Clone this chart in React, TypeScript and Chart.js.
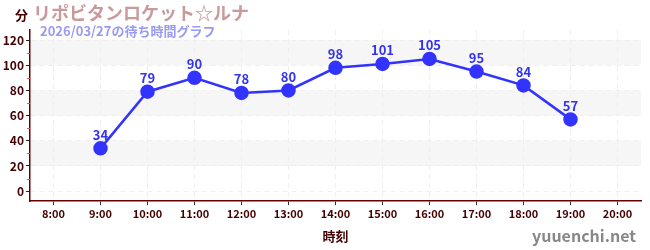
import React, { useEffect, useRef } from "react";
import { Chart, registerables } from "chart.js";

Chart.register(...registerables);

const categories = ["8:00", "9:00", "10:00", "11:00", "12:00", "13:00", "14:00", "15:00", "16:00", "17:00", "18:00", "19:00", "20:00"];
const waitValues: (number | null)[] = [null, 34, 79, 90, 78, 80, 98, 101, 105, 95, 84, 57, null];
const yTicks = [0, 20, 40, 60, 80, 100, 120];
const minorTicks = [10, 30, 50, 70, 90, 110];
const titleText = "リポビタンロケット☆ルナ";
const subtitleText = "2026/03/27の待ち時間グラフ";
const unitText = "分";
const xTitle = "時刻";
const watermark = "yuuenchi.net";

const FONT = "'Noto Sans CJK JP', 'Noto Sans', sans-serif";

const decorPlugin = {
  id: "decor",
  beforeDraw(chart: any) {
    const { ctx, chartArea, scales } = chart;
    const y = scales.y;
    ctx.save();
    ctx.fillStyle = "#f6f6f6";
    for (let v = 20; v < 120; v += 40) {
      const top = y.getPixelForValue(v + 20);
      const bot = y.getPixelForValue(v);
      ctx.fillRect(chartArea.left, top, chartArea.right - chartArea.left, bot - top);
    }
    ctx.restore();
  },
  afterDatasetsDraw(chart: any) {
    const { ctx } = chart;
    const meta = chart.getDatasetMeta(0);
    ctx.save();
    ctx.font = `bold 13px ${FONT}`;
    ctx.fillStyle = "#3333ee";
    ctx.textAlign = "center";
    ctx.textBaseline = "bottom";
    meta.data.forEach((pt: any, i: number) => {
      const v = waitValues[i];
      if (v == null || pt.skip) return;
      ctx.fillText(String(v), pt.x, pt.y - 7);
    });
    ctx.restore();
  },
  afterDraw(chart: any) {
    const { ctx, chartArea, scales } = chart;
    const y = scales.y;
    ctx.save();
    ctx.strokeStyle = "#ee5555";
    ctx.lineWidth = 1;
    minorTicks.forEach((v) => {
      const py = Math.round(y.getPixelForValue(v)) + 0.5;
      ctx.beginPath();
      ctx.moveTo(chartArea.left - 3, py);
      ctx.lineTo(chartArea.left, py);
      ctx.stroke();
    });
    ctx.textBaseline = "alphabetic";
    ctx.textAlign = "left";
    ctx.fillStyle = "#440000";
    ctx.font = `bold 13px ${FONT}`;
    ctx.fillText(unitText, 15, 20);
    ctx.fillStyle = "#c99a9c";
    ctx.font = `bold 18px ${FONT}`;
    ctx.fillText(titleText, 33, 20);
    ctx.fillStyle = "#9a9af5";
    ctx.font = `bold 13px ${FONT}`;
    ctx.fillText(subtitleText, 40, 36);
    ctx.fillStyle = "#888888";
    ctx.font = `bold 16px ${FONT}`;
    ctx.textAlign = "right";
    ctx.fillText(watermark, 636, 242);
    ctx.restore();
  },
};

export default function App() {
  const ref = useRef<HTMLCanvasElement | null>(null);
  useEffect(() => {
    document.body.style.margin = "0";
    const canvas = ref.current!;
    const chart = new Chart(canvas, {
      type: "line",
      data: {
        labels: categories,
        datasets: [
          {
            data: waitValues,
            borderColor: "#3333ff",
            backgroundColor: "#3333ff",
            borderWidth: 2.5,
            pointRadius: 6,
            pointHoverRadius: 6,
            pointBackgroundColor: "#3333ff",
            pointBorderColor: "#3333ff",
            tension: 0,
            spanGaps: false,
          },
        ],
      },
      options: {
        animation: false,
        responsive: false,
        maintainAspectRatio: false,
        layout: { padding: { top: 30, left: 0, right: 9, bottom: 6 } },
        plugins: { legend: { display: false }, tooltip: { enabled: false }, title: { display: false } },
        scales: {
          x: {
            offset: true,
            grid: {
              color: "#efefef",
              tickColor: "#333333",
              tickLength: 4,
              tickBorderDash: [],
              offset: false,
            },
            border: { color: "#660000", width: 1.5, dash: [5, 4] },
            ticks: { color: "#440000", font: { family: FONT, size: 11, weight: "bold" }, padding: 2, maxRotation: 0, autoSkip: false },
            title: { display: true, text: xTitle, color: "#440000", font: { family: FONT, size: 13, weight: "bold" }, padding: { top: 6, bottom: 0 } },
          },
          y: {
            min: -8,
            max: 128,
            afterBuildTicks: (s: any) => {
              s.ticks = yTicks.map((v) => ({ value: v }));
            },
            afterFit: (s: any) => {
              s.width = 30;
            },
            grid: { color: "#efefef", tickColor: "#222222", tickLength: 4, tickBorderDash: [] },
            border: { color: "#660000", width: 1.5, dash: [5, 4] },
            ticks: { color: "#440000", font: { family: FONT, size: 12, weight: "bold" }, padding: 2 },
          },
        },
      },
      plugins: [decorPlugin],
    } as any);
    return () => chart.destroy();
  }, []);
  return (
    <div style={{ width: 650, height: 250 }}>
      <canvas ref={ref} width={650} height={250} style={{ width: 650, height: 250 }} />
    </div>
  );
}
